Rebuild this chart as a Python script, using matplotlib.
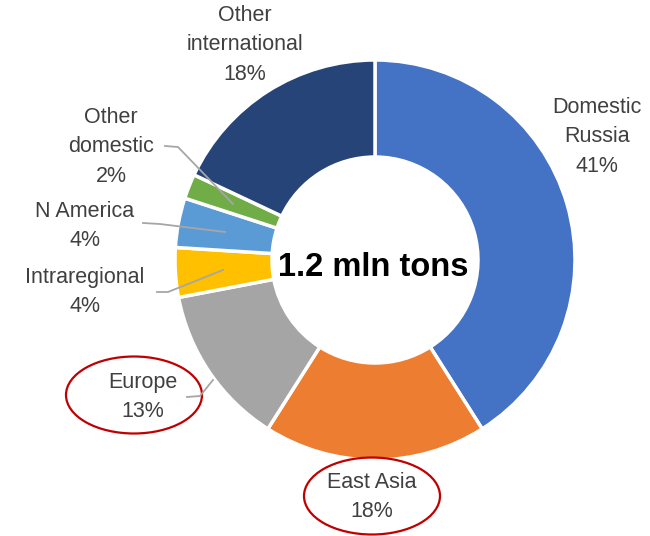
import matplotlib.pyplot as plt
from matplotlib.patches import Ellipse

categories = ["Domestic\nRussia", "East Asia", "Europe", "Intraregional",
              "N America", "Other\ndomestic", "Other\ninternational"]
shares = [41, 18, 13, 4, 4, 2, 18]
colors = ["#4472C4", "#ED7D31", "#A5A5A5", "#FFC000",
          "#5B9BD5", "#70AD47", "#264478"]
center_text = "1.2 mln tons"

H = 536

def py(y):
    # pixel y (top-down) -> data y
    return H - y

fig = plt.figure(figsize=(6.5, 5.36), dpi=100)
ax = fig.add_axes([0, 0, 1, 1])

ax.pie(shares, colors=colors, startangle=90, counterclock=False,
       center=(375, py(260)), radius=200,
       wedgeprops=dict(width=97, edgecolor="white", linewidth=2.5))
ax.set_xlim(0, 650)
ax.set_ylim(0, H)
ax.set_aspect("equal")
ax.axis("off")

ax.text(373, py(267), center_text, ha="center", va="center",
        fontsize=23.5, fontweight="bold", family="Liberation Sans", color="black")

# label centres (pixel coords)
label_pos = [(597, 137), (372, 497), (143, 397), (85, 292),
             (85, 226), (111, 147), (245, 45)]
for name, val, (x, y) in zip(categories, shares, label_pos):
    ax.text(x, py(y), f"{name}\n{val}%", ha="center", va="center",
            fontsize=15.5, family="Liberation Sans", color="#404040",
            linespacing=1.55)

# leader lines
leaders = [
    [(165, 146), (178, 147), (233, 204)],
    [(143, 223), (160, 224), (225, 232)],
    [(157, 292), (168, 292), (223, 270)],
    [(187, 397), (200, 396), (213, 380)],
]
for pts in leaders:
    ax.plot([p[0] for p in pts], [py(p[1]) for p in pts],
            color="#A6A6A6", lw=1.3)

# highlight ellipses
for (cx, cy) in [(134, 395), (372, 496)]:
    ax.add_patch(Ellipse((cx, py(cy)), 136, 77, fill=False,
                         edgecolor="#C00000", lw=1.6))

fig.savefig("out.png", dpi=100)
